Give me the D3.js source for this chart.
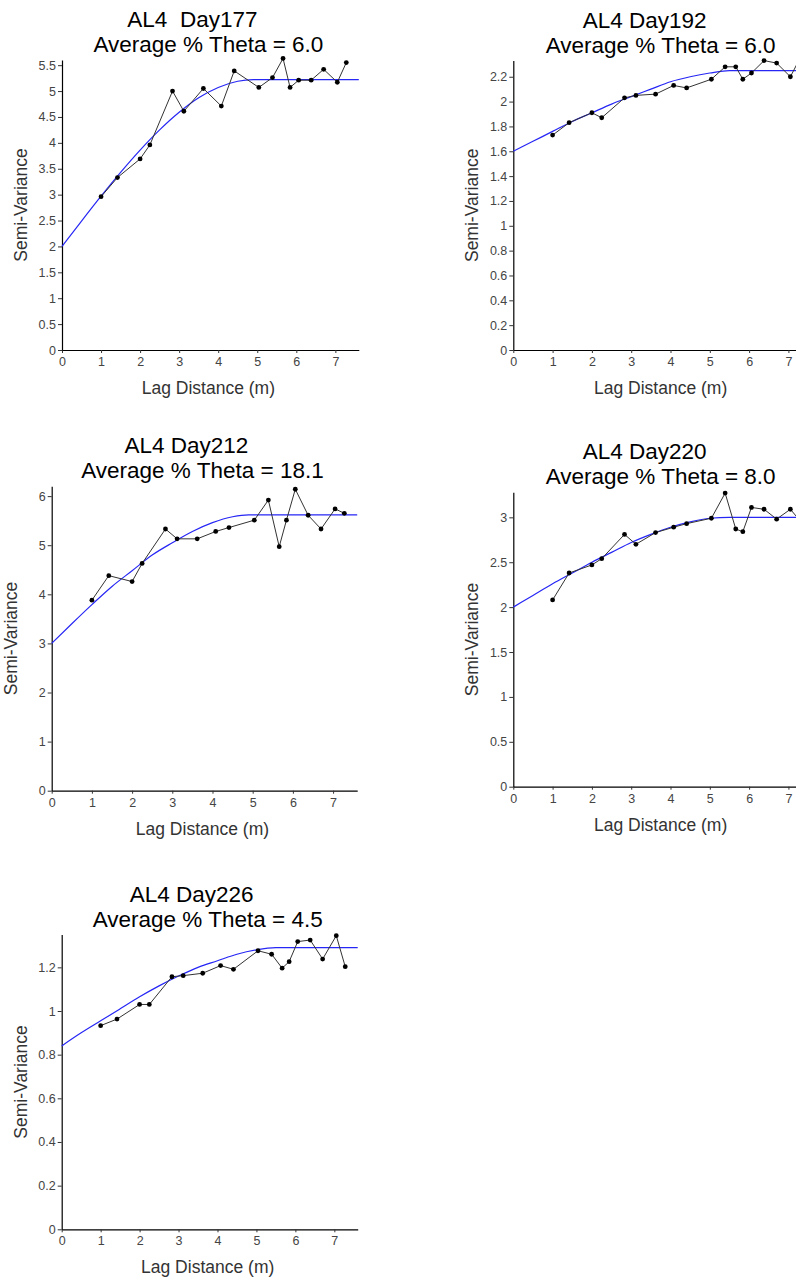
<!DOCTYPE html>
<html>
<head>
<meta charset="utf-8">
<script src="https://cdn.jsdelivr.net/npm/d3@7"></script>
<style>
  body { margin: 0; background: #fff; }
  svg { display: block; font-family: "Liberation Sans", Arial, sans-serif; }
</style>
</head>
<body>
<svg id="chart" width="796" height="1279"></svg>
<script>
// lag distances (m), same grid for every day
const lags = [1.0, 1.42, 2.0, 2.25, 2.83, 3.12, 3.62, 4.08, 4.41, 5.04, 5.39, 5.66, 5.84, 6.06, 6.38, 6.70, 7.05, 7.28];

// experimental semi-variance per day
const gamma177 = [2.96, 3.33, 3.69, 3.96, 5.0, 4.61, 5.05, 4.71, 5.39, 5.07, 5.26, 5.63, 5.07, 5.21, 5.21, 5.42, 5.17, 5.55];
const gamma192 = [1.73, 1.83, 1.91, 1.87, 2.03, 2.05, 2.06, 2.13, 2.11, 2.18, 2.28, 2.28, 2.18, 2.23, 2.33, 2.31, 2.20, 2.34];
const gamma212 = [3.88, 4.38, 4.26, 4.63, 5.33, 5.13, 5.13, 5.28, 5.36, 5.51, 5.92, 4.97, 5.51, 6.14, 5.61, 5.33, 5.74, 5.65];
const gamma220 = [2.08, 2.38, 2.47, 2.54, 2.81, 2.70, 2.83, 2.89, 2.93, 2.99, 3.27, 2.87, 2.84, 3.11, 3.09, 2.98, 3.09, 2.97];
const gamma226 = [0.933, 0.963, 1.03, 1.03, 1.157, 1.162, 1.173, 1.208, 1.191, 1.276, 1.26, 1.196, 1.226, 1.318, 1.325, 1.238, 1.345, 1.203];

// fitted model curves (blue)
const model177X = [0, 0.5, 1, 1.5, 2, 2.5, 3, 3.5, 4, 4.5, 4.9, 7.6];
const model177Y = [2.0, 2.49, 2.97, 3.43, 3.86, 4.25, 4.59, 4.87, 5.07, 5.19, 5.22, 5.22];
const model192X = [0, 0.5, 1, 1.5, 2, 2.5, 3, 3.5, 4, 4.5, 5, 5.5, 7.6];
const model192Y = [1.6, 1.68, 1.76, 1.84, 1.91, 1.98, 2.04, 2.10, 2.16, 2.20, 2.23, 2.25, 2.25];
const model212X = [0, 0.5, 1, 1.5, 2, 2.5, 3, 3.5, 4, 4.5, 4.9, 7.6];
const model212Y = [3.0, 3.40, 3.79, 4.16, 4.48, 4.80, 5.05, 5.28, 5.46, 5.58, 5.62, 5.62];
const model220X = [0, 0.5, 1, 1.5, 2, 2.5, 3, 3.5, 4, 4.5, 5, 5.5, 7.6];
const model220Y = [2.0, 2.13, 2.26, 2.38, 2.50, 2.61, 2.72, 2.81, 2.89, 2.95, 2.99, 3.0, 3.0];
const model226X = [0, 0.5, 1, 1.5, 2, 2.5, 3, 3.5, 4, 4.5, 5, 5.5, 7.6];
const model226Y = [0.84, 0.90, 0.955, 1.01, 1.065, 1.115, 1.16, 1.20, 1.23, 1.26, 1.28, 1.29, 1.29];

// tick labels
const xTicks = [0, 1, 2, 3, 4, 5, 6, 7];
const yTicks177 = [0, 0.5, 1, 1.5, 2, 2.5, 3, 3.5, 4, 4.5, 5, 5.5];
const yTicks192 = [0, 0.2, 0.4, 0.6, 0.8, 1, 1.2, 1.4, 1.6, 1.8, 2, 2.2];
const yTicks212 = [0, 1, 2, 3, 4, 5, 6];
const yTicks220 = [0, 0.5, 1, 1.5, 2, 2.5, 3];
const yTicks226 = [0, 0.2, 0.4, 0.6, 0.8, 1, 1.2];

const titles = ["AL4  Day177", "AL4 Day192", "AL4 Day212", "AL4 Day220", "AL4 Day226"];
const thetas = ["6.0", "6.0", "18.1", "8.0", "4.5"];

// layout: plot box [left, top, right, bottom] and axis maxima
const panels = [
  { box: [62, 60, 358.8, 350], xMax: 7.6, yMax: 5.6, g: gamma177, mx: model177X, my: model177Y, yt: yTicks177 },
  { box: [513.3, 60.6, 812, 350], xMax: 7.6, yMax: 2.33, g: gamma192, mx: model192X, my: model192Y, yt: yTicks192 },
  { box: [51.7, 486.3, 357.2, 790.7], xMax: 7.6, yMax: 6.2, g: gamma212, mx: model212X, my: model212Y, yt: yTicks212 },
  { box: [513.3, 492.2, 812, 786.7], xMax: 7.6, yMax: 3.28, g: gamma220, mx: model220X, my: model220Y, yt: yTicks220 },
  { box: [61.7, 934.6, 357.7, 1229.3], xMax: 7.6, yMax: 1.35, g: gamma226, mx: model226X, my: model226Y, yt: yTicks226 }
];

const svg = d3.select("#chart");
svg.append("rect").attr("width", 796).attr("height", 1279).attr("fill", "#fff");

const fmt = v => String(+v.toFixed(2));

panels.forEach((p, i) => {
  const [left, top, right, bottom] = p.box;
  const x = d3.scaleLinear().domain([0, p.xMax]).range([left, right]);
  const y = d3.scaleLinear().domain([0, p.yMax]).range([bottom, top]);
  const cx = (left + right) / 2;
  const g = svg.append("g");

  // titles
  g.append("text")
    .attr("x", cx - 18).attr("y", top - 33)
    .attr("text-anchor", "middle")
    .attr("font-size", 22.5)
    .attr("xml:space", "preserve")
    .text(titles[i]);
  g.append("text")
    .attr("x", cx - 2).attr("y", top - 8)
    .attr("text-anchor", "middle")
    .attr("font-size", 22.5)
    .text(`Average % Theta = ${thetas[i]}`);

  // axes
  const xAxis = g.append("g")
    .attr("transform", `translate(0,${bottom})`)
    .call(d3.axisBottom(x).tickValues(xTicks).tickFormat(fmt).tickSize(3).tickSizeOuter(0));
  const yAxis = g.append("g")
    .attr("transform", `translate(${left},0)`)
    .call(d3.axisLeft(y).tickValues(p.yt).tickFormat(fmt).tickSize(4).tickSizeOuter(0));
  [xAxis, yAxis].forEach(a => {
    a.select(".domain").attr("stroke", "#000").attr("stroke-width", 1.2);
    a.selectAll(".tick line").attr("stroke", "#333");
    a.selectAll(".tick text").attr("fill", "#444").attr("font-size", 12.5)
      .attr("font-family", "Liberation Sans, Arial, sans-serif");
  });
  xAxis.selectAll(".tick text").attr("dy", "0.8em");
  yAxis.selectAll(".tick text").attr("dx", "1px");

  // axis labels
  g.append("text")
    .attr("x", cx - 2).attr("y", bottom + 44)
    .attr("text-anchor", "middle")
    .attr("font-size", 17.5)
    .attr("fill", "#333")
    .text("Lag Distance (m)");
  g.append("text")
    .attr("transform", `translate(${left - 35},${(top + bottom) / 2}) rotate(-90)`)
    .attr("text-anchor", "middle")
    .attr("font-size", 17.5)
    .attr("fill", "#333")
    .text("Semi-Variance");

  // model curve
  const model = p.mx.map((v, k) => [v, p.my[k]]);
  g.append("path")
    .datum(model)
    .attr("fill", "none")
    .attr("stroke", "#2626f5")
    .attr("stroke-width", 1.2)
    .attr("d", d3.line().x(d => x(d[0])).y(d => y(d[1])).curve(d3.curveMonotoneX));

  // experimental points
  const pts = lags.map((v, k) => [v, p.g[k]]);
  g.append("path")
    .datum(pts)
    .attr("fill", "none")
    .attr("stroke", "#333")
    .attr("stroke-width", 1)
    .attr("d", d3.line().x(d => x(d[0])).y(d => y(d[1])));
  g.selectAll("circle")
    .data(pts)
    .join("circle")
    .attr("cx", d => x(d[0]))
    .attr("cy", d => y(d[1]))
    .attr("r", 2.4)
    .attr("fill", "#000");
});
</script>
</body>
</html>
